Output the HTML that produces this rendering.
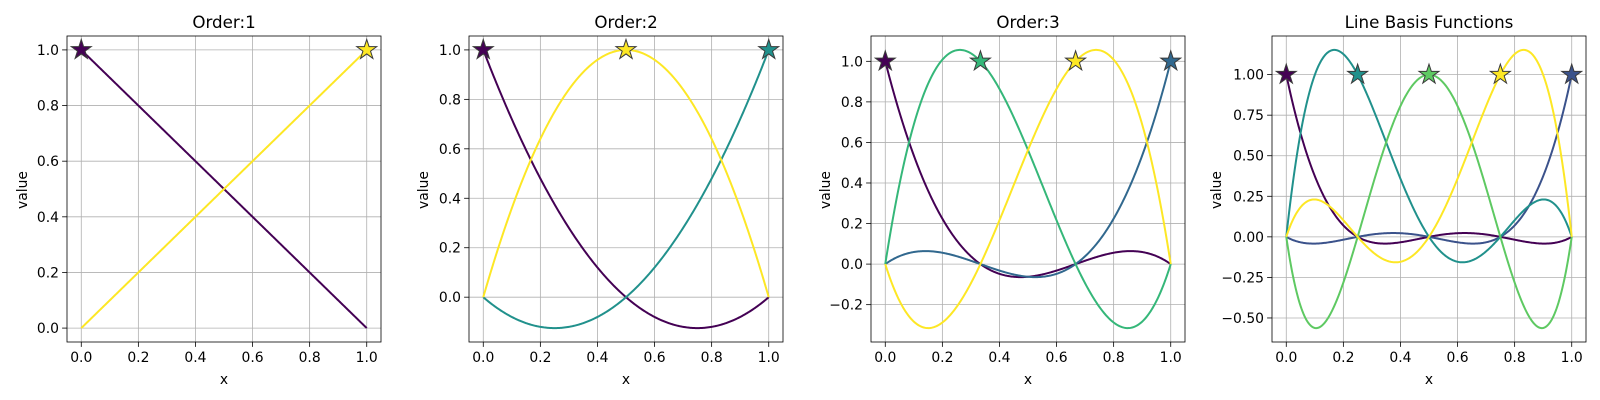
<!DOCTYPE html>
<html><head><meta charset="utf-8">
<style>
html,body{margin:0;padding:0;background:#fff;}
svg{display:block;font-family:"DejaVu Sans","Liberation Sans",sans-serif;}
</style></head>
<body>
<svg id="fig" width="1600" height="400" viewBox="0 0 1600 400"></svg>
<script>
// ---- data ----
const panelTitles = ["Order:1", "Order:2", "Order:3", "Line Basis Functions"];
const nodesOrder1 = [0, 1];
const nodesOrder2 = [0, 1, 0.5];
const nodesOrder3 = [0, 1, 1/3, 2/3];
const nodesOrder4 = [0, 1, 0.25, 0.5, 0.75];
const colorsOrder1 = ["#440154", "#fde725"];
const colorsOrder2 = ["#440154", "#21918c", "#fde725"];
const colorsOrder3 = ["#440154", "#31688e", "#35b779", "#fde725"];
const colorsOrder4 = ["#440154", "#3b528b", "#21918c", "#5ec962", "#fde725"];
const xTicks = [0, 0.2, 0.4, 0.6, 0.8, 1.0];
const xTickLabels = ["0.0", "0.2", "0.4", "0.6", "0.8", "1.0"];
const yTicks1 = [0, 0.2, 0.4, 0.6, 0.8, 1.0];
const yTickLabels1 = ["0.0", "0.2", "0.4", "0.6", "0.8", "1.0"];
const yTicks2 = [0, 0.2, 0.4, 0.6, 0.8, 1.0];
const yTickLabels2 = ["0.0", "0.2", "0.4", "0.6", "0.8", "1.0"];
const yTicks3 = [-0.2, 0, 0.2, 0.4, 0.6, 0.8, 1.0];
const yTickLabels3 = ["\u22120.2", "0.0", "0.2", "0.4", "0.6", "0.8", "1.0"];
const yTicks4 = [-0.5, -0.25, 0, 0.25, 0.5, 0.75, 1.0];
const yTickLabels4 = ["\u22120.50", "\u22120.25", "0.00", "0.25", "0.50", "0.75", "1.00"];

const panels = [
  {nodes: nodesOrder1, colors: colorsOrder1, yt: yTicks1, yl: yTickLabels1},
  {nodes: nodesOrder2, colors: colorsOrder2, yt: yTicks2, yl: yTickLabels2},
  {nodes: nodesOrder3, colors: colorsOrder3, yt: yTicks3, yl: yTickLabels3},
  {nodes: nodesOrder4, colors: colorsOrder4, yt: yTicks4, yl: yTickLabels4}
];

const NS = "http://www.w3.org/2000/svg";
const svg = document.getElementById("fig");
function mk(tag, attrs, parent) {
  const e = document.createElementNS(NS, tag);
  for (const k in attrs) e.setAttribute(k, attrs[k]);
  (parent || svg).appendChild(e);
  return e;
}
function basis(nodes, i, x) {
  let v = 1;
  for (let j = 0; j < nodes.length; j++) if (j !== i) v *= (x - nodes[j]) / (nodes[i] - nodes[j]);
  return v;
}
function starPath(cx, cy, R) {
  const r = R * 0.382; let d = "";
  for (let k = 0; k < 10; k++) {
    const a = -Math.PI / 2 + k * Math.PI / 5, rr = k % 2 ? r : R;
    d += (k ? "L" : "M") + (cx + rr * Math.cos(a)).toFixed(2) + "," + (cy + rr * Math.sin(a)).toFixed(2);
  }
  return d + "Z";
}

const AX_W = 314, AX_TOP = 36, AX_BOT = 342;
const lefts = [67, 469, 871, 1272];
const N = 300;

panels.forEach((p, pi) => {
  const L = lefts[pi];
  const g = mk("g", {});
  
  
  let ymin = Infinity, ymax = -Infinity;
  const curves = p.nodes.map((n, i) => {
    const pts = [];
    for (let k = 0; k <= N; k++) {
      const x = k / N, y = basis(p.nodes, i, x);
      pts.push([x, y]); ymin = Math.min(ymin, y); ymax = Math.max(ymax, y);
    }
    return pts;
  });
  const yr = ymax - ymin, y0 = ymin - 0.05 * yr, y1 = ymax + 0.05 * yr;
  const xs = x => L + (x + 0.05) / 1.1 * AX_W;
  const ys = y => AX_BOT - (y - y0) / (y1 - y0) * (AX_BOT - AX_TOP);

  xTicks.forEach((t, k) => {
    const X = xs(t);
    const gl = mk("line", {x1: X, x2: X, y1: AX_TOP, y2: AX_BOT, stroke: "#b0b0b0", "stroke-width": 0.8}, g);
    
    
    mk("line", {x1: X, x2: X, y1: AX_BOT, y2: AX_BOT + 4.9, stroke: "#000", "stroke-width": 0.8}, g);
    const tl = mk("text", {x: X, y: AX_BOT + 20, "text-anchor": "middle", "font-size": 13.9}, g);
    tl.textContent = xTickLabels[k];
    
    
  });
  p.yt.forEach((t, k) => {
    const Y = ys(t);
    const gl = mk("line", {x1: L, x2: L + AX_W, y1: Y, y2: Y, stroke: "#b0b0b0", "stroke-width": 0.8}, g);
    
    
    mk("line", {x1: L - 4.9, x2: L, y1: Y, y2: Y, stroke: "#000", "stroke-width": 0.8}, g);
    const tl = mk("text", {x: L - 8, y: Y + 5, "text-anchor": "end", "font-size": 13.9}, g);
    tl.textContent = p.yl[k];
    
    
  });
  curves.forEach((pts, i) => {
    const d = pts.map((q, k) => (k ? "L" : "M") + xs(q[0]).toFixed(2) + "," + ys(q[1]).toFixed(2)).join("");
    const path = mk("path", {d: d, fill: "none", stroke: p.colors[i], "stroke-width": 2}, g);
    
    
  });
  p.nodes.forEach((n, i) => {
    const s = mk("path", {d: starPath(xs(n), ys(1), 10.5), fill: p.colors[i], stroke: "#3a3a3a", "stroke-width": 1}, g);
    
    
  });
  const fr = mk("rect", {x: L, y: AX_TOP, width: AX_W, height: AX_BOT - AX_TOP, fill: "none", stroke: "#000", "stroke-width": 0.8}, g);
  
  
  const ti = mk("text", {x: L + AX_W / 2, y: 28, "text-anchor": "middle", "font-size": 16.7}, g);
  ti.textContent = panelTitles[pi];
  
  
  const xl = mk("text", {x: L + AX_W / 2, y: 384, "text-anchor": "middle", "font-size": 13.9}, g);
  xl.textContent = "x";
  
  
  const yx = pi === 0 ? L - 40 : (pi === 3 ? L - 51 : L - 41);
  const yl = mk("text", {x: yx, y: 190, "text-anchor": "middle", "font-size": 13.9, transform: "rotate(-90 " + yx + " 190)"}, g);
  yl.textContent = "value";
  
  
});
</script>
</body></html>
